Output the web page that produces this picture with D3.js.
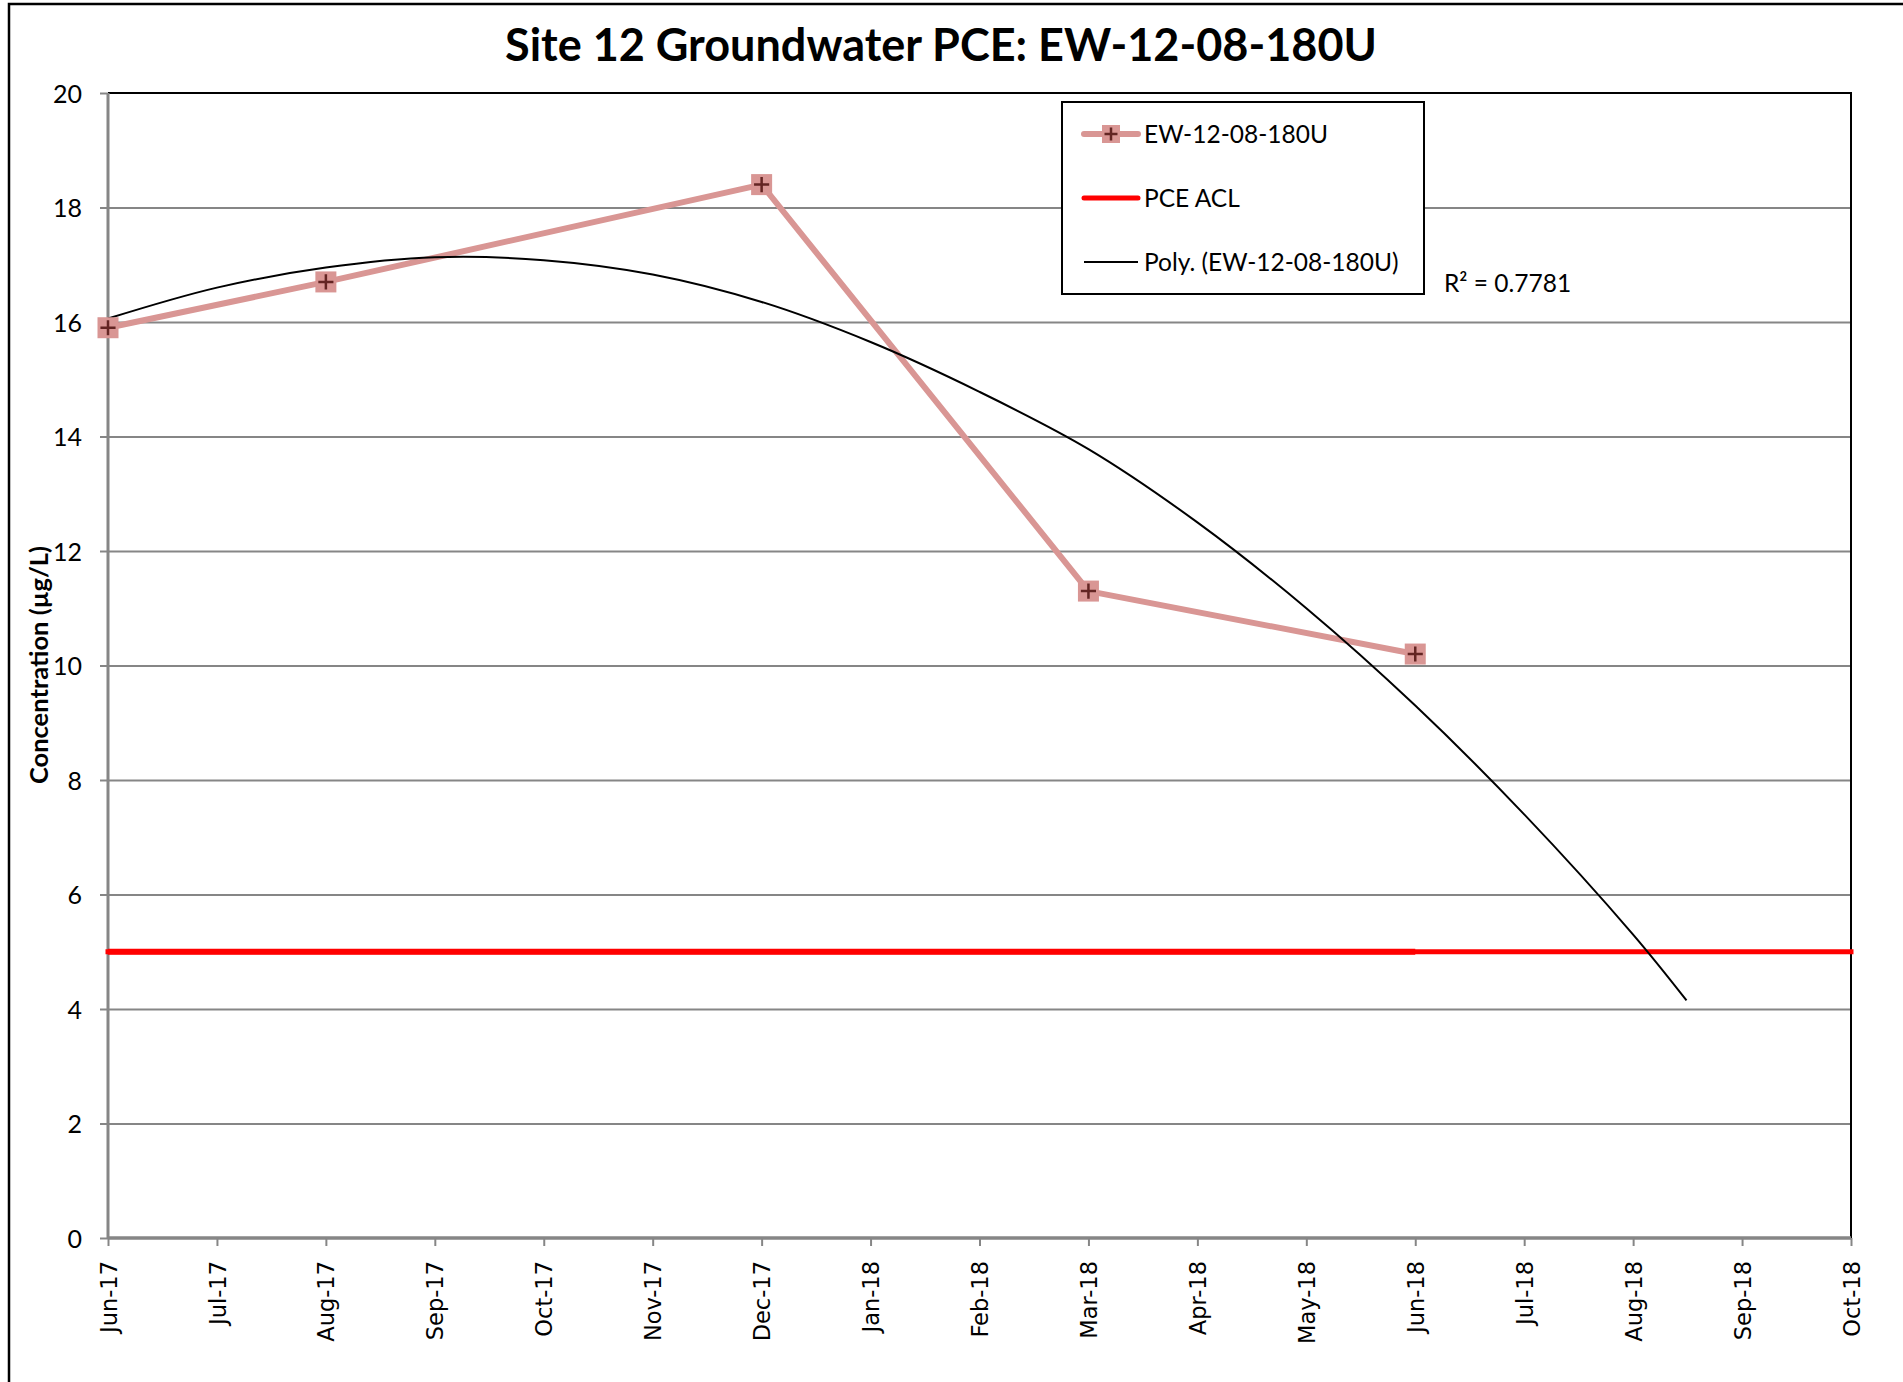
<!DOCTYPE html>
<html>
<head>
<meta charset="utf-8">
<script src="https://cdn.jsdelivr.net/npm/d3@7"></script>
<style>
  body { margin: 0; background: #fff; }
  svg { display: block; }
</style>
</head>
<body>
<svg class="chart"></svg>
<script>
// Month categories on the x axis (Excel date axis, base unit = months)
var months = ["Jun-17", "Jul-17", "Aug-17", "Sep-17", "Oct-17", "Nov-17", "Dec-17",
              "Jan-18", "Feb-18", "Mar-18", "Apr-18", "May-18", "Jun-18",
              "Jul-18", "Aug-18", "Sep-18", "Oct-18"];

// EW-12-08-180U samples (month position, ug/L)
var sampleMonth = [0, 2, 6, 9, 12];
var sampleValue = [15.9, 16.7, 18.4, 11.3, 10.2];

// PCE ACL, two overlapping series
var aclValue = 5;
var aclMonthShort = [0, 12];
var aclMonthLong = [0, 16];

// Poly. trendline
var trendMonth = [0, 1, 2, 3, 4, 5, 6, 7, 8, 9, 10, 11, 12, 13, 14, 14.49];
var trendValue = [16.06, 16.6, 16.95, 17.13, 17.08, 16.83, 16.35, 15.65, 14.78, 13.78,
                  12.5, 11.0, 9.3, 7.4, 5.3, 4.15];

var yTicks = [0, 2, 4, 6, 8, 10, 12, 14, 16, 18, 20];

// Total dimensions
var w = 1903,
    h = 1382;

var svg = d3.select(".chart")
    .attr("width", w)
    .attr("height", h);

// plot area, in page pixels
var margin = { top: 93, right: 52, bottom: 144, left: 108 },
    width = w - margin.left - margin.right,
    height = h - margin.top - margin.bottom;

var grey = "#868686",
    pink = "#d99694",
    darkRed = "#632523";

// outer chart frame
svg.append("rect")
    .attr("x", 9)
    .attr("y", 4)
    .attr("width", w + 20)
    .attr("height", h + 20)
    .attr("fill", "#fff")
    .attr("stroke", "#000")
    .attr("stroke-width", 2.5);

var g = svg.append("g")
    .attr("transform", "translate(" + margin.left + "," + margin.top + ")");

var x = d3.scaleLinear()
    .domain([0, months.length - 1])
    .range([0, width]);

var y = d3.scaleLinear()
    .domain([0, 20])
    .range([height, 0]);

// horizontal gridlines
g.append("g")
    .attr("class", "grid")
    .call(d3.axisLeft(y).tickValues(yTicks.slice(1, -1)).tickSize(-width).tickFormat(""))
    .call(function(s) {
        s.select(".domain").remove();
        s.selectAll("line").attr("stroke", grey).attr("stroke-width", 2);
    });

// plot area border, top and right in black
g.append("path")
    .attr("d", "M0,0H" + width + "V" + height)
    .attr("fill", "none")
    .attr("stroke", "#000")
    .attr("stroke-width", 2);

// y axis
g.append("g")
    .attr("class", "y axis")
    .call(d3.axisLeft(y).tickValues(yTicks).tickSize(8).tickPadding(18))
    .call(function(s) {
        s.select(".domain").attr("stroke", grey).attr("stroke-width", 3).attr("d", "M0,0V" + height);
        s.selectAll("line").attr("stroke", grey).attr("stroke-width", 2);
        s.selectAll("text")
            .attr("font-family", "Lato, sans-serif")
            .attr("font-size", 25)
            .attr("fill", "#000")
            .attr("dy", "0.36em");
    });

// x axis
g.append("g")
    .attr("class", "x axis")
    .attr("transform", "translate(0," + height + ")")
    .call(d3.axisBottom(x).tickValues(d3.range(months.length)).tickFormat(function(i) { return months[i]; }).tickSize(8))
    .call(function(s) {
        s.select(".domain").attr("stroke", grey).attr("stroke-width", 3.5).attr("d", "M0,0H" + width);
        s.selectAll("line").attr("stroke", grey).attr("stroke-width", 2);
        s.selectAll("text")
            .attr("font-family", "DejaVu Sans, sans-serif")
            .attr("font-size", 22.5)
            .attr("fill", "#000")
            .attr("text-anchor", "end")
            .attr("transform", "rotate(-90)")
            .attr("x", -23)
            .attr("y", 0)
            .attr("dy", "0.36em");
    });

// PCE ACL line
var aclLine = d3.line()
    .x(function(d) { return x(d); })
    .y(function() { return y(aclValue); });

g.append("path")
    .datum(aclMonthShort)
    .attr("fill", "none")
    .attr("stroke", "#ff0000")
    .attr("stroke-width", 6)
    .attr("d", aclLine);

g.append("path")
    .datum(aclMonthLong)
    .attr("fill", "none")
    .attr("stroke", "#ff0000")
    .attr("stroke-width", 5)
    .attr("stroke-linecap", "square")
    .attr("d", aclLine);

// sample series
var samples = sampleMonth.map(function(m, i) { return { m: m, v: sampleValue[i] }; });

var line = d3.line()
    .x(function(d) { return x(d.m); })
    .y(function(d) { return y(d.v); });

g.append("path")
    .datum(samples)
    .attr("fill", "none")
    .attr("stroke", pink)
    .attr("stroke-width", 6)
    .attr("stroke-linejoin", "round")
    .attr("stroke-linecap", "round")
    .attr("d", line);

// trendline
var trend = trendMonth.map(function(m, i) { return { m: m, v: trendValue[i] }; });

var trendLine = d3.line()
    .x(function(d) { return x(d.m); })
    .y(function(d) { return y(d.v); })
    .curve(d3.curveCatmullRom.alpha(0.5));

g.append("path")
    .datum(trend)
    .attr("fill", "none")
    .attr("stroke", "#000")
    .attr("stroke-width", 2)
    .attr("d", trendLine);

// markers: square with a cross
function marker(sel, size) {
    sel.append("rect")
        .attr("x", -size / 2)
        .attr("y", -size / 2)
        .attr("width", size)
        .attr("height", size)
        .attr("fill", pink);
    sel.append("path")
        .attr("d", "M" + (-size * 0.36) + ",0H" + (size * 0.36) + "M0," + (-size * 0.36) + "V" + (size * 0.36))
        .attr("stroke", darkRed)
        .attr("stroke-width", 2.5);
}

g.selectAll(".pt")
    .data(samples)
    .enter().append("g")
    .attr("class", "pt")
    .attr("transform", function(d) { return "translate(" + x(d.m) + "," + y(d.v) + ")"; })
    .call(marker, 21);

// title
svg.append("text")
    .attr("x", 941)
    .attr("y", 61)
    .attr("text-anchor", "middle")
    .attr("font-family", "Lato, sans-serif")
    .attr("font-weight", "bold")
    .attr("font-size", 45)
    .text("Site 12 Groundwater PCE: EW-12-08-180U");

// y axis title
svg.append("text")
    .attr("transform", "translate(48,665) rotate(-90)")
    .attr("text-anchor", "middle")
    .attr("font-family", "Lato, sans-serif")
    .attr("font-weight", "bold")
    .attr("font-size", 25.5)
    .text("Concentration (\u00b5g/L)");

// legend
var legend = svg.append("g")
    .attr("transform", "translate(1062,102)");

legend.append("rect")
    .attr("width", 362)
    .attr("height", 192)
    .attr("fill", "#fff")
    .attr("stroke", "#000")
    .attr("stroke-width", 2);

var legendItems = ["EW-12-08-180U", "PCE ACL", "Poly. (EW-12-08-180U)"];
var legendY = d3.scalePoint().domain(legendItems).range([32, 160]);

var rows = legend.selectAll(".row")
    .data(legendItems)
    .enter().append("g")
    .attr("class", "row")
    .attr("transform", function(d) { return "translate(0," + legendY(d) + ")"; });

rows.append("text")
    .attr("x", 82)
    .attr("dy", "0.36em")
    .attr("font-family", "Lato, sans-serif")
    .attr("font-size", 24.5)
    .text(function(d) { return d; });

rows.filter(function(d, i) { return i === 0; })
    .call(function(s) {
        s.append("line").attr("x1", 22).attr("x2", 76)
            .attr("stroke", pink).attr("stroke-width", 6).attr("stroke-linecap", "round");
        s.append("g").attr("transform", "translate(49,0)").call(marker, 18);
    });

rows.filter(function(d, i) { return i === 1; })
    .append("line").attr("x1", 22).attr("x2", 76)
    .attr("stroke", "#ff0000").attr("stroke-width", 5).attr("stroke-linecap", "round");

rows.filter(function(d, i) { return i === 2; })
    .append("line").attr("x1", 22).attr("x2", 76)
    .attr("stroke", "#000").attr("stroke-width", 2);

// R squared label
svg.append("text")
    .attr("x", 1444)
    .attr("y", 292)
    .attr("font-family", "Lato, sans-serif")
    .attr("font-size", 24.5)
    .text("R\u00b2 = 0.7781");
</script>
</body>
</html>
